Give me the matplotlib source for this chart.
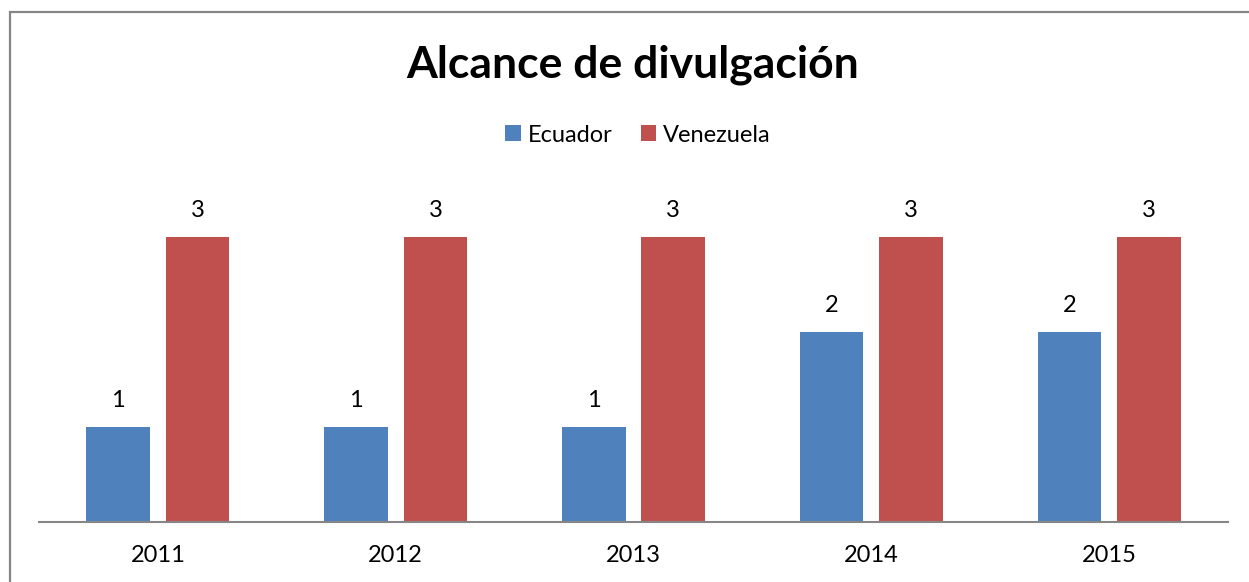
import numpy as np
import matplotlib.pyplot as plt
from matplotlib.patches import Rectangle

# chart data
years = ['2011', '2012', '2013', '2014', '2015']
ecuador = [1, 1, 1, 2, 2]
venezuela = [3, 3, 3, 3, 3]

blue = '#4F81BD'
red = '#C0504D'
plt.rcParams['font.family'] = ['Lato', 'DejaVu Sans']

fig = plt.figure(figsize=(12.49, 5.82), dpi=100)
W, H = 1249, 582

# outer chart border
fig.patches.append(Rectangle((10 / W, -0.01), 1.1, (582 - 12) / H + 0.01,
                             transform=fig.transFigure, fill=False,
                             edgecolor='#868686', lw=1.6))

ax = fig.add_axes([39 / W, (H - 521.5) / H, (1228 - 39) / W, (521.5 - 189) / H])
x = np.arange(len(years))
w = 0.267
off = 0.167
b1 = ax.bar(x - off, ecuador, w, color=blue, label='Ecuador')
b2 = ax.bar(x + off, venezuela, w, color=red, label='Venezuela')

for bars, vals in [(b1, ecuador), (b2, venezuela)]:
    for r, v in zip(bars, vals):
        ax.annotate(str(v), (r.get_x() + r.get_width() / 2, v),
                    xytext=(0, 11), textcoords='offset points',
                    ha='center', va='bottom', fontsize=17)

ax.set_xlim(-0.5, len(years) - 0.5)
ax.set_ylim(0, 3.5)
ax.set_xticks(x)
ax.set_xticklabels(years, fontsize=17)
ax.tick_params(axis='x', length=0, pad=17)
ax.set_yticks([])
for s in ['top', 'right', 'left']:
    ax.spines[s].set_visible(False)
ax.spines['bottom'].set_color('#868686')
ax.spines['bottom'].set_linewidth(1.5)

fig.text(633 / W, 1 - 65 / H, 'Alcance de divulgación', ha='center', va='center',
         fontsize=32, fontweight='bold')
fig.legend(handles=[b1, b2], loc='center', bbox_to_anchor=(638 / W, 1 - 135 / H),
           ncol=2, frameon=False, fontsize=17, handlelength=0.65, handleheight=0.65,
           handletextpad=0.3, columnspacing=1.2)

plt.savefig('out.png')
